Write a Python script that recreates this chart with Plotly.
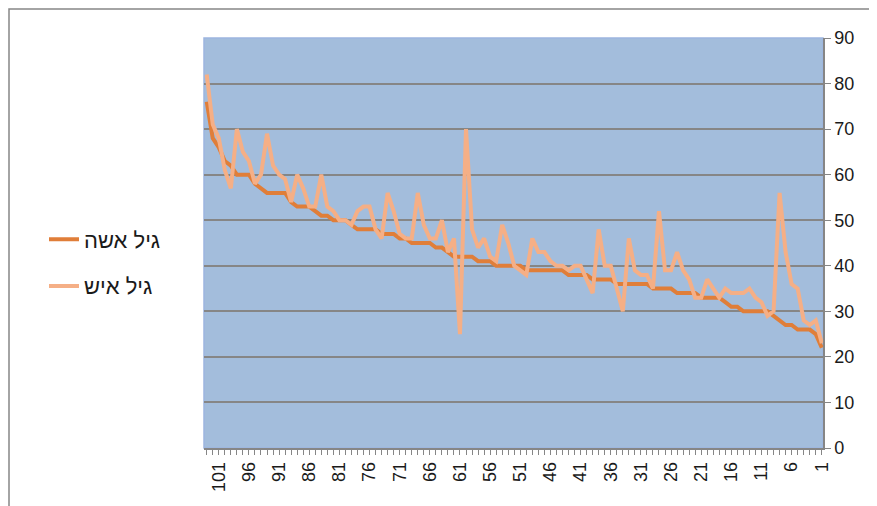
import plotly.graph_objects as go

# Row numbers (category axis), listed left-to-right as drawn (103 ... 1)
categories = list(range(103, 0, -1))

# גיל אשה (woman's age), left-to-right
woman_age = [76, 68, 66, 63, 62, 60, 60, 60, 58, 57,
             56, 56, 56, 56, 54, 53, 53, 53, 52, 51,
             51, 50, 50, 50, 49, 48, 48, 48, 48, 47,
             47, 47, 46, 46, 45, 45, 45, 45, 44, 44,
             43, 42, 42, 42, 42, 41, 41, 41, 40, 40,
             40, 40, 40, 39, 39, 39, 39, 39, 39, 39,
             38, 38, 38, 38, 37, 37, 37, 37, 36, 36,
             36, 36, 36, 36, 35, 35, 35, 35, 34, 34,
             34, 34, 33, 33, 33, 33, 32, 31, 31, 30,
             30, 30, 30, 30, 29, 28, 27, 27, 26, 26,
             26, 25, 22]

# גיל איש (man's age), left-to-right
man_age = [82, 71, 68, 61, 57, 70, 65, 63, 58, 60,
           69, 62, 60, 59, 54, 60, 57, 53, 53, 60,
           53, 52, 50, 50, 49, 52, 53, 53, 48, 46,
           56, 52, 47, 46, 46, 56, 49, 46, 46, 50,
           43, 46, 25, 70, 48, 44, 46, 42, 41, 49,
           45, 40, 39, 38, 46, 43, 43, 41, 40, 40,
           39, 40, 40, 37, 34, 48, 40, 40, 35, 30,
           46, 39, 38, 38, 35, 52, 39, 39, 43, 39,
           37, 33, 33, 37, 35, 33, 35, 34, 34, 34,
           35, 33, 32, 29, 30, 56, 43, 36, 35, 28,
           27, 28, 23]

x_tick_labels = [101, 96, 91, 86, 81, 76, 71, 66, 61, 56, 51, 46, 41, 36, 31, 26, 21, 16, 11, 6, 1]
y_tick_values = [0, 10, 20, 30, 40, 50, 60, 70, 80, 90]

DARK = "#E07E39"
LIGHT = "#F5AF86"
GRID = "#868686"
FONT = "Liberation Sans"

fig = go.Figure()
fig.add_trace(go.Scatter(x=categories, y=woman_age, mode="lines", name="גיל אשה",
                         legendgroup="a", line=dict(color=DARK, width=4)))
fig.add_trace(go.Scatter(x=categories, y=man_age, mode="lines", name="גיל איש",
                         legendgroup="b", line=dict(color=LIGHT, width=4)))

# page body has an 8px default margin; figure spans page px 8..877, 8..506
OFF = 8
W, H = 877 - OFF, 506 - OFF
L, R, T, B = 204 - OFF, 54, 38 - OFF, 58
pw, ph = W - L - R, H - T - B

def px_x(p):
    return (p - OFF - L) / pw

def px_y(p):
    return (H + OFF - B - p) / ph

fig.update_layout(
    width=W, height=H,
    margin=dict(l=L, r=R, t=T, b=B, autoexpand=False),
    paper_bgcolor="white",
    plot_bgcolor="#A3BDDC",
    font=dict(family=FONT, size=18, color="#1A1A1A"),
    showlegend=True,
    legend=dict(x=px_x(44), xanchor="left", y=px_y(263), yanchor="middle",
                bgcolor="rgba(0,0,0,0)", borderwidth=0, tracegroupgap=15,
                traceorder="grouped", font=dict(family=FONT, size=22, color="#1A1A1A")),
    xaxis=dict(range=[103.45, 0.8], tickmode="array", tickvals=x_tick_labels,
               ticktext=[str(v) for v in x_tick_labels], tickangle=-90,
               ticks="outside", ticklen=5, tickcolor=GRID, tickwidth=1,
               minor=dict(dtick=1, ticks="outside", ticklen=5, tickcolor=GRID, tickwidth=1, showgrid=False),
               showgrid=False, zeroline=False, showline=True, linecolor=GRID, linewidth=1.5,
               tickfont=dict(size=18, family=FONT)),
    yaxis=dict(range=[0, 90], tickmode="array", tickvals=y_tick_values, side="right",
               ticks="outside", ticklen=6, tickcolor=GRID,
               showgrid=True, gridcolor=GRID, gridwidth=1.5, zeroline=False,
               showline=True, linecolor=GRID, linewidth=1.5,
               tickfont=dict(size=18, family=FONT)),
    shapes=[
        dict(type="rect", xref="paper", yref="paper", x0=0, x1=1, y0=0, y1=1,
             line=dict(color="#9DB5E0", width=1.5), layer="below"),
        dict(type="rect", xref="paper", yref="paper",
             x0=px_x(9), x1=px_x(870), y0=px_y(520), y1=px_y(9),
             line=dict(color=GRID, width=1.5), layer="below"),
    ],
)

fig.write_html("out.html")
